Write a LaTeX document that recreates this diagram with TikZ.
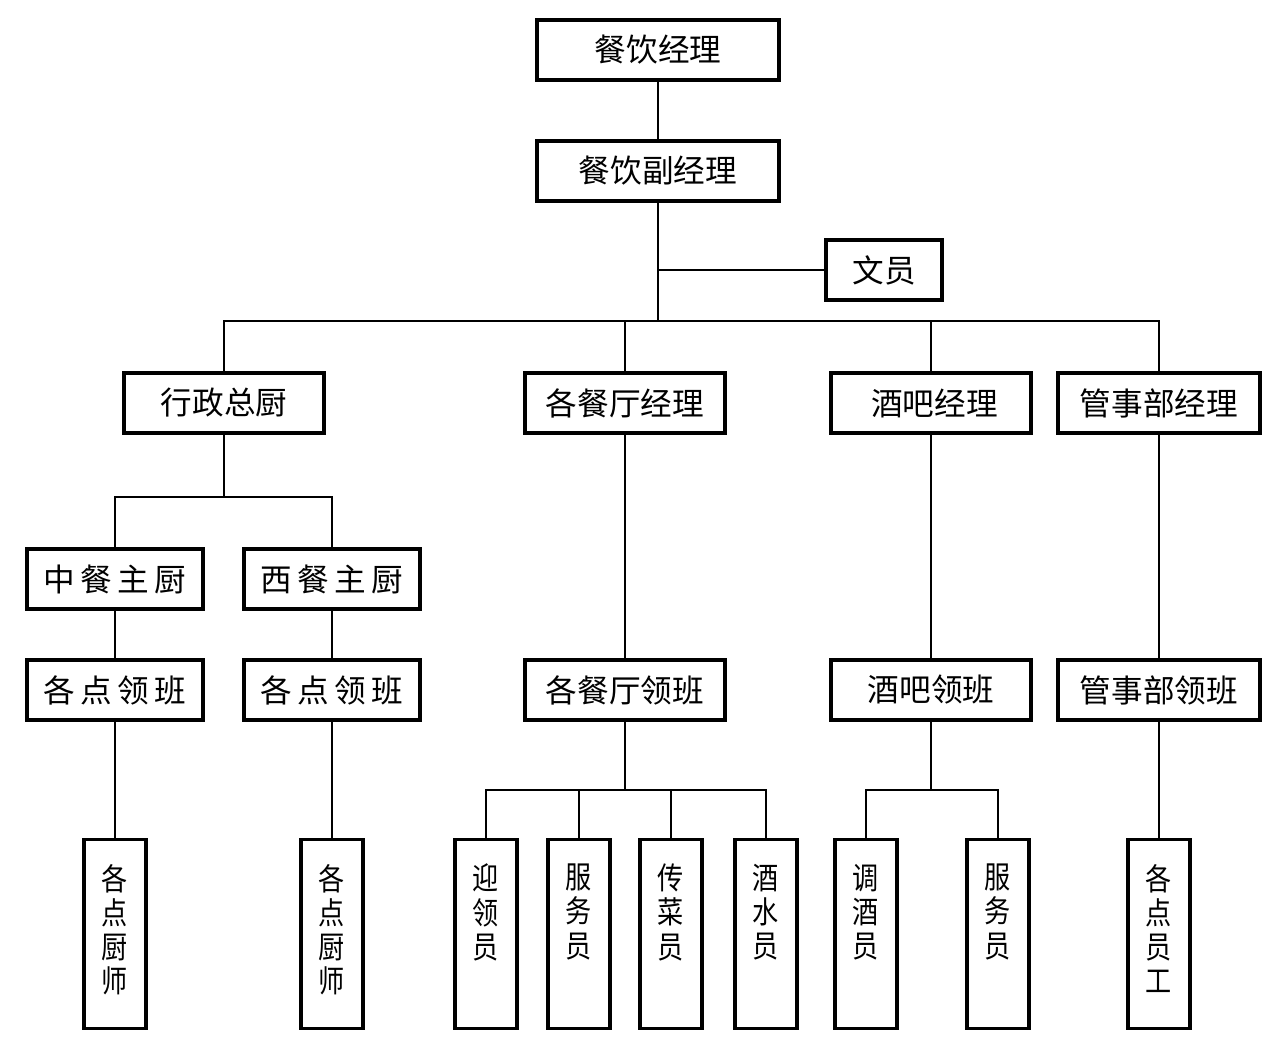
\documentclass[tikz,border=0pt]{standalone}
\usepackage{fontspec}
\newfontfamily\cjk{Noto Sans CJK SC}
\newfontfamily\cjknarrow[FakeStretch=0.85]{Noto Sans CJK SC}
\usetikzlibrary{positioning}

\begin{document}
\begin{tikzpicture}[
    x=0.02cm, y=-0.02cm,
    font=\cjk\fontsize{18}{20}\selectfont,
    hbox/.style={draw, line width=2pt, minimum width=#1, minimum height=1.2cm, inner sep=0pt},
    vbox/.style={draw, line width=2pt, minimum width=1.24cm, minimum height=3.78cm, inner sep=0pt,
      font=\cjknarrow\fontsize{17.5}{19.5}\selectfont},
    link/.style={line width=1.4pt},
    thin link/.style={line width=1.1pt}
]
\useasboundingbox (0,0) rectangle (1280,1058);

% ===== TOP =====
\node[hbox=4.84cm] (mgr)  at (658,50)  {餐饮经理};
\node[hbox=4.84cm] (dmgr) at (658,171) {餐饮副经理};
\node[hbox=2.32cm] (clerk) at (884,270) {文员};

% ===== DEPARTMENTS =====
\node[hbox=4cm]    (chef) at (224,403) {行政总厨};
\node[hbox=4cm]    (rest) at (625,403) {各餐厅经理};
\node[hbox=4cm]    (bar)  at (931,403) {\ 酒吧经理};
\node[hbox=4.04cm] (stw)  at (1159,403) {管事部经理};

% ===== KITCHEN =====
\node[hbox=3.52cm] (cn)  at (115,579) {中\,餐\,主\,厨};
\node[hbox=3.52cm] (we)  at (332,579) {西\,餐\,主\,厨};
\node[hbox=3.52cm] (cnl) at (115,690) {各\,点\,领\,班};
\node[hbox=3.52cm] (wel) at (332,690) {各\,点\,领\,班};

% ===== LEADERS =====
\node[hbox=4cm]    (restl) at (625,690)  {各餐厅领班};
\node[hbox=4cm]    (barl)  at (931,690)  {酒吧领班};
\node[hbox=4.04cm] (stwl)  at (1159,690) {管事部领班};

% ===== STAFF =====
\newcommand{\vtext}[1]{\parbox[c][2.8cm][t]{1cm}{\centering #1}}
\node[vbox] (s1)  at (115,934)  {\vtext{各\\点\\厨\\师}};
\node[vbox] (s2)  at (332,934)  {\vtext{各\\点\\厨\\师}};
\node[vbox] (s3)  at (486,934)  {\vtext{迎\\领\\员}};
\node[vbox] (s4)  at (579,934)  {\vtext{服\\务\\员}};
\node[vbox] (s5)  at (671,934)  {\vtext{传\\菜\\员}};
\node[vbox] (s6)  at (766,934)  {\vtext{酒\\水\\员}};
\node[vbox] (s7)  at (866,934)  {\vtext{调\\酒\\员}};
\node[vbox] (s8)  at (998,934)  {\vtext{服\\务\\员}};
\node[vbox] (s9)  at (1159,934) {\vtext{各\\点\\员\\工}};

% ===== BUS POINTS =====
\coordinate (busA) at (658,321);
\coordinate (busB) at (224,497);
\coordinate (busC) at (625,790);
\coordinate (busD) at (931,790);

% ===== LINKS =====
\draw[link] (mgr) -- (dmgr);
\draw[link] (dmgr) -- (busA);
\draw[link] (clerk.west) -- (clerk.west -| dmgr);
\foreach \d in {chef,rest,bar,stw}
  \draw[link] (\d.north) |- (busA);

\draw[link] (chef) -- (busB);
\foreach \d in {cn,we}
  \draw[link] (\d.north) |- (busB);
\draw[link] (cn) -- (cnl);
\draw[link] (we) -- (wel);
\draw[link] (cnl) -- (s1);
\draw[link] (wel) -- (s2);

\draw[link] (rest) -- (restl);
\draw[link] (bar) -- (barl);
\draw[link] (stw) -- (stwl);
\draw[link] (stwl) -- (s9);

\draw[link] (restl) -- (busC);
\foreach \s in {s3,s4,s5,s6}
  \draw[thin link] (\s.north) |- (busC);
\draw[link] (barl) -- (busD);
\foreach \s in {s7,s8}
  \draw[thin link] (\s.north) |- (busD);

\end{tikzpicture}
\end{document}
